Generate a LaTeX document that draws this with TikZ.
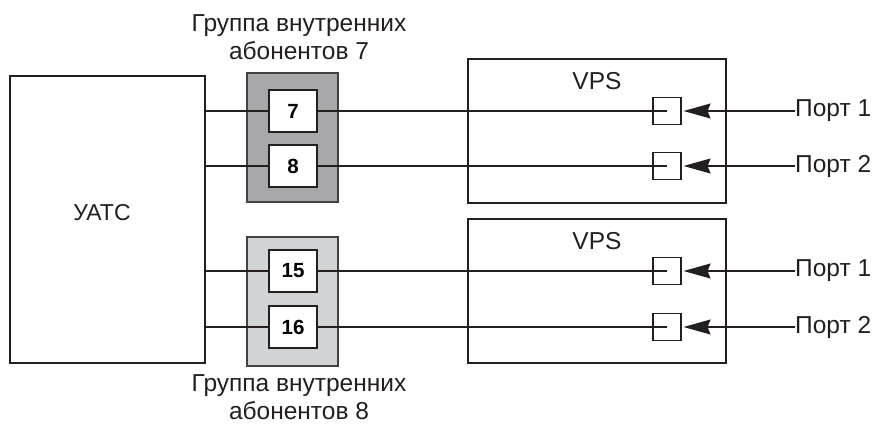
\documentclass[tikz,border=0pt]{standalone}
\usepackage{fontspec}
\setmainfont{Liberation Sans}
\usetikzlibrary{arrows.meta}
\definecolor{grpdark}{HTML}{A8A8AA}
\definecolor{grplight}{HTML}{D2D3D5}
\definecolor{ink}{HTML}{231F20}
\tikzset{
  bigbox/.style={draw=ink, line width=2pt, fill=white},
  grpbox/.style={draw=ink!85, line width=1.8pt},
  numbox/.style={draw=ink, line width=2pt, fill=white, minimum width=48pt, minimum height=42pt, inner sep=0pt, font=\fontsize{20.5}{24}\selectfont\bfseries},
  portsq/.style={draw=ink, line width=1.1pt, minimum width=28pt, minimum height=27pt, inner sep=0pt},
  wire/.style={draw=ink, line width=1.1pt},
  portarrow/.style={draw=ink, line width=1.1pt, -{Stealth[length=27pt,width=15pt,inset=3pt]}},
  lbl/.style={font=\fontsize{24.5}{28}\selectfont, text=ink, inner sep=0pt},
}
\begin{document}
\begin{tikzpicture}[x=1pt,y=-1pt]
\useasboundingbox (0,0) rectangle (874,425);
% main boxes
\draw[bigbox] (10,76) rectangle (205,363);
\node[lbl, font=\fontsize{23}{28}\selectfont] (uatc) at (102,213) {УАТС};
\coordinate (uatcE) at (205,219);
\draw[bigbox] (468,59) rectangle (726,203);
\node[lbl] (vps1) at (597,81) {VPS};
\draw[bigbox] (468,219) rectangle (726,363);
\node[lbl] (vps2) at (597,241) {VPS};
% groups
\fill[grpdark] (247,73) rectangle (338,202);
\draw[grpbox] (247,73) rectangle (338,202);
\fill[grplight] (247,237) rectangle (338,366);
\draw[grpbox] (247,237) rectangle (338,366);
\node[lbl, align=center] (t1) at (299,37) {Группа внутренних\\абонентов 7};
\node[lbl, align=center] (t2) at (299,397) {Группа внутренних\\абонентов 8};
% port squares
\node[portsq] (s1) at (667,111) {};
\node[portsq] (s2) at (667,166) {};
\node[portsq] (s3) at (667,271) {};
\node[portsq] (s4) at (667,327) {};
% number boxes positions
\coordinate (c7) at (293,111);
\coordinate (c8) at (293,166);
\coordinate (c15) at (293,271);
\coordinate (c16) at (293,327);
% wires
\draw[wire] (c7 -| uatcE) -- (s1.center);
\draw[wire] (c8 -| uatcE) -- (s2.center);
\draw[wire] (c15 -| uatcE) -- (s3.center);
\draw[wire] (c16 -| uatcE) -- (s4.center);
\node[numbox] (n7) at (c7) {7};
\node[numbox] (n8) at (c8) {8};
\node[numbox] (n15) at (c15) {15};
\node[numbox] (n16) at (c16) {16};
% ports
\node[lbl, anchor=west] (p1) at (795,111) {Порт 1};
\node[lbl, anchor=west] (p2) at (795,166) {Порт 2};
\node[lbl, anchor=west] (p3) at (795,271) {Порт 1};
\node[lbl, anchor=west] (p4) at (795,327) {Порт 2};
\draw[portarrow] (p1.west) -- ([xshift=2pt]s1.east);
\draw[portarrow] (p2.west) -- ([xshift=2pt]s2.east);
\draw[portarrow] (p3.west) -- ([xshift=2pt]s3.east);
\draw[portarrow] (p4.west) -- ([xshift=2pt]s4.east);
\end{tikzpicture}
\end{document}
